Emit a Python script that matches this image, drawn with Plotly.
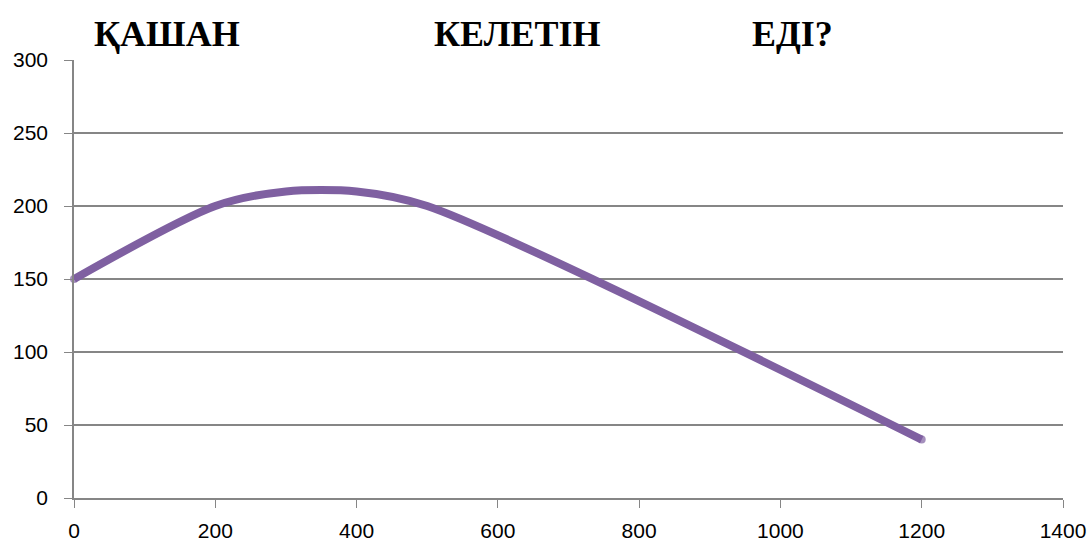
import plotly.graph_objects as go

x_vals = [0, 200, 300, 400, 500, 1200]
y_vals = [150, 200, 210, 210, 200, 40]
x_ticks = [0, 200, 400, 600, 800, 1000, 1200, 1400]
y_ticks = [0, 50, 100, 150, 200, 250, 300]
title_words = ["ҚАШАН", "КЕЛЕТІН", "ЕДІ?"]
title_centers_px = [167, 517, 792]
caption = "(1-сурет)"

W, H = 1092, 543
L, R, T, B = 74, 29, 60, 45
plot_w = W - L - R
plot_h = H - T - B
color = "#7F60A1"
grid = "#868686"

fig = go.Figure()
fig.add_trace(go.Scatter(
    x=x_vals, y=y_vals, mode="lines+markers",
    line=dict(color=color, width=8, shape="spline", smoothing=0.8),
    marker=dict(color=color, size=[8 if i in (0, len(x_vals) - 1) else 0 for i in range(len(x_vals))],
                line=dict(width=0)),
    hoverinfo="skip", showlegend=False, cliponaxis=False,
))

axis_font = dict(family="Liberation Sans, Arial, sans-serif", size=21, color="#000000")
fig.update_xaxes(range=[0, 1400], tickvals=x_ticks, ticks="outside", ticklen=8,
                 tickcolor=grid, showline=True, linecolor=grid, linewidth=1.5,
                 showgrid=False, zeroline=False, tickfont=axis_font,
                 ticklabelstandoff=5, automargin=False)
fig.update_yaxes(range=[0, 300], tickvals=y_ticks, ticks="outside", ticklen=8,
                 tickcolor=grid, showline=True, linecolor=grid, linewidth=1.5,
                 showgrid=True, gridcolor=grid, gridwidth=1.5, zeroline=False,
                 tickfont=axis_font, ticklabelstandoff=12, automargin=False)

annotations = []
for word, cx in zip(title_words, title_centers_px):
    annotations.append(dict(
        text="<b>" + word + "</b>", xref="paper", yref="paper",
        x=(cx - L) / plot_w, y=1 + (T - 34) / plot_h,
        xanchor="center", yanchor="middle", showarrow=False,
        font=dict(family="Liberation Serif, Times New Roman, serif", size=36, color="#000000"),
    ))
annotations.append(dict(
    text=caption, xref="paper", yref="paper",
    x=(46 - L) / plot_w, y=1 + (T - 2) / plot_h,
    xanchor="left", yanchor="bottom", showarrow=False,
    font=dict(family="Liberation Serif, Times New Roman, serif", size=30, color="#000000"),
))

fig.update_layout(
    width=W, height=H, margin=dict(l=L, r=R, t=T, b=B, autoexpand=False),
    paper_bgcolor="white", plot_bgcolor="white",
    annotations=annotations,
)
fig.write_html("out.html")
